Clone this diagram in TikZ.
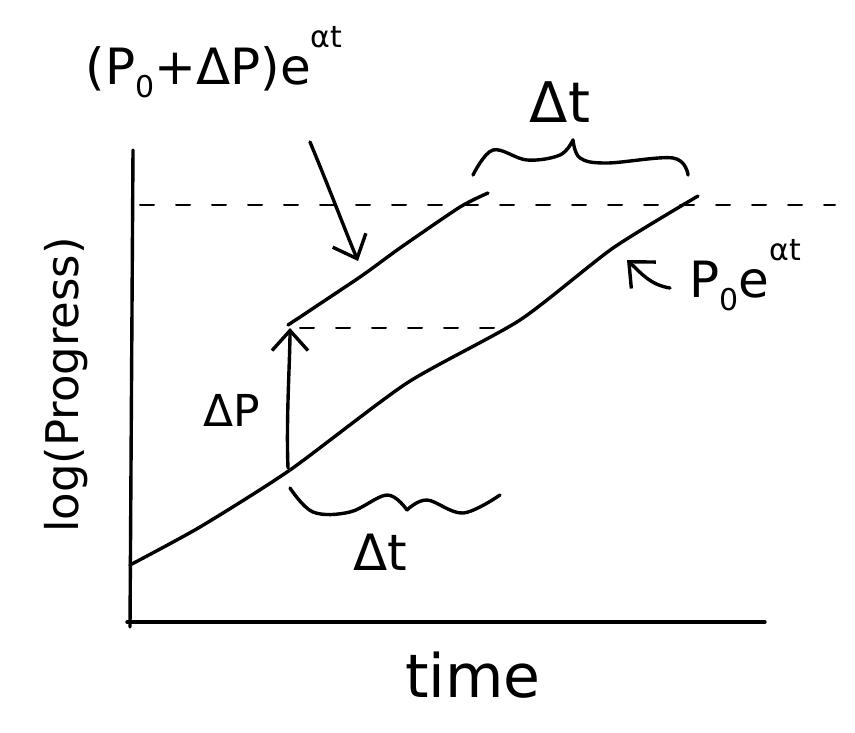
\documentclass[tikz,border=0pt]{standalone}
\usepackage{fontspec}
\setmainfont{DejaVu Sans}
\usetikzlibrary{arrows.meta}
\newcommand{\mysub}[1]{\raisebox{-0.25em}{\fontsize{30}{30}\selectfont #1}}
\newcommand{\mysup}[1]{\raisebox{0.75em}{\fontsize{30}{30}\selectfont #1}}
\begin{document}
\begin{tikzpicture}[x=1pt,y=-1pt,line cap=round,line join=round,
  ink/.style={line width=3.4pt,black},
  dashln/.style={line width=2pt,dash pattern=on 14pt off 22pt},
  barb/.style={-{Straight Barb[length=20pt,width=36pt,line width=3.4pt]}},
  lbl/.style={inner sep=0pt,anchor=center}]
\useasboundingbox (0,0) rectangle (855,732);
% axes
\coordinate (ytop) at (133,150);
\coordinate (ybot) at (130,627);
\coordinate (xl) at (127,622);
\coordinate (xr) at (765,622);
\draw[ink] (ytop) -- (ybot);
\draw[ink] (xl) -- (xr);
% dashed levels
\coordinate (d1a) at (140,205);
\coordinate (d1b) at (835,205);
\draw[dashln] (d1a) -- (d1b);
\coordinate (d2a) at (300,328);
\coordinate (d2b) at (512,328);
\draw[dashln] (d2a) -- (d2b);
% lower curve P0 e^{at}
\draw[ink] plot[smooth,tension=0.4] coordinates {(130,565) (200,527) (290,470) (407,383) (520,320) (613,248) (698,196)};
% upper curve
\draw[ink] plot[smooth,tension=0.4] coordinates {(288,325) (360,277) (400,248) (460,207) (488,193)};
% vertical arrow Delta P
\coordinate (vb) at (288,468);
\coordinate (vt) at (290,328);
\draw[ink,barb] (vb) .. controls (286,420) and (290,360) .. (vt);
\node[lbl,font=\fontsize{44}{44}\selectfont] (dP) at (232,410) {ΔP};
% bottom brace
\draw[ink] plot[smooth,tension=0.6] coordinates {(290,488) (313,512) (350,512) (387,495) (407,510)};
\draw[ink] plot[smooth,tension=0.6] coordinates {(407,510) (427,500) (463,513) (500,495)};
\node[lbl,font=\fontsize{50}{50}\selectfont] (dtb) at (380,552) {Δt};
% top brace
\draw[ink] plot[smooth,tension=0.6] coordinates {(473,175) (493,150) (527,160) (560,155) (573,140)};
\draw[ink] plot[smooth,tension=0.6] coordinates {(573,140) (580,158) (607,163) (673,158) (688,175)};
\node[lbl,font=\fontsize{56}{56}\selectfont] (dtt) at (560,102) {Δt};
% labels
\node[lbl,font=\fontsize{50}{50}\selectfont] (up) at (214,62) {(P\mysub{0}+ΔP)e\mysup{αt}};
\node[lbl,font=\fontsize{50}{50}\selectfont] (lo) at (745,275) {P\mysub{0}e\mysup{αt}};
\node[lbl,font=\fontsize{45}{45}\selectfont,rotate=90] (ylab) at (66,385) {log(Progress)};
\node[lbl,font=\fontsize{60}{60}\selectfont] (xlab) at (473,675) {time};
% pointer arrows
\coordinate (a1s) at (310,142);
\coordinate (a1e) at (358,261);
\draw[ink,barb] (a1s) .. controls (330,190) and (345,230) .. (a1e);
\coordinate (a2s) at (670,288);
\coordinate (a2e) at (627,260);
\draw[ink,barb] (a2s) .. controls (650,285) and (640,272) .. (a2e);
\end{tikzpicture}
\end{document}
